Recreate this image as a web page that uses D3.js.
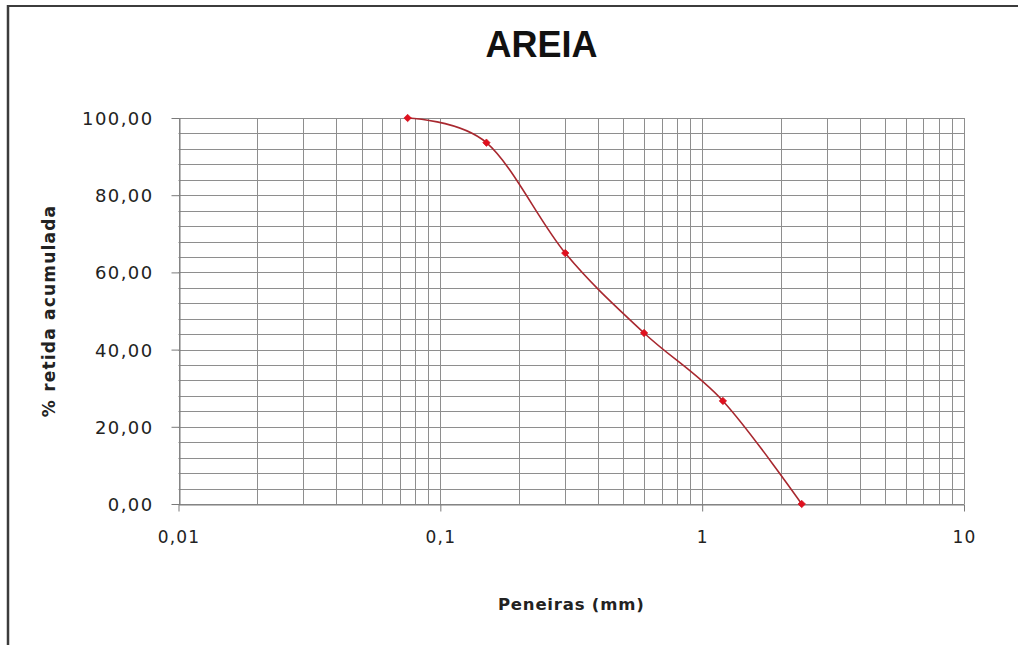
<!DOCTYPE html>
<html>
<head>
<meta charset="utf-8">
<script src="https://cdn.jsdelivr.net/npm/d3@7/dist/d3.min.js"></script>
<style>
  html, body { margin: 0; padding: 0; background: #fff; }
  svg { display: block; }
</style>
</head>
<body>
<svg id="chart" width="1018" height="645"></svg>
<script>
// ---- data ----
const sieves = [0.075, 0.15, 0.3, 0.6, 1.2, 2.4];          // Peneiras (mm)
const retained = [100.0, 93.6, 65.0, 44.3, 26.7, 0.0];     // % retida acumulada
const xTicks = [0.01, 0.1, 1, 10];
const xTickLabels = ["0,01", "0,1", "1", "10"];
const yTicks = [0, 20, 40, 60, 80, 100];
const yTickLabels = ["0,00", "20,00", "40,00", "60,00", "80,00", "100,00"];
const titleText = "AREIA";
const xTitle = "Peneiras (mm)";
const yTitle = "% retida acumulada";

// ---- layout ----
const W = 1018, H = 645;
const plot = { left: 178.5, right: 964, top: 118, bottom: 504 };

const svg = d3.select("#chart");
svg.append("rect").attr("width", W).attr("height", H).attr("fill", "#fff");

// outer frame (top and left visible)
svg.append("line").attr("x1", 7).attr("x2", W).attr("y1", 6).attr("y2", 6)
  .attr("stroke", "#3c3c3c").attr("stroke-width", 2);
svg.append("line").attr("x1", 8).attr("x2", 8).attr("y1", 5).attr("y2", H)
  .attr("stroke", "#3c3c3c").attr("stroke-width", 2.5);

const x = d3.scaleLog().domain([0.01, 10]).range([plot.left, plot.right]);
const y = d3.scaleLinear().domain([0, 100]).range([plot.bottom, plot.top]);

// minor grid values
const xGrid = [];
for (let dec = 0.01; dec < 10; dec *= 10) {
  for (let k = 1; k <= 9; k++) xGrid.push(+(dec * k).toPrecision(3));
}
xGrid.push(10);
const yGrid = d3.range(0, 101, 4);

const grid = svg.append("g");
grid.selectAll("line.h").data(yGrid).join("line")
  .attr("x1", plot.left).attr("x2", plot.right)
  .attr("y1", d => Math.round(y(d)) + 0.5).attr("y2", d => Math.round(y(d)) + 0.5)
  .attr("stroke", "#8e8e8e").attr("stroke-width", 1);
grid.selectAll("line.v").data(xGrid).join("line")
  .attr("x1", d => Math.round(x(d)) + 0.5).attr("x2", d => Math.round(x(d)) + 0.5)
  .attr("y1", plot.top).attr("y2", plot.bottom)
  .attr("stroke", "#8e8e8e").attr("stroke-width", 1);

// axes
const tickFont = "'DejaVu Sans', Verdana, sans-serif";
const xAxis = d3.axisBottom(x).tickValues(xTicks).tickSize(7)
  .tickFormat((d, i) => xTickLabels[i]).tickSizeOuter(0);
const gx = svg.append("g").attr("transform", `translate(0,${Math.round(plot.bottom) + 0.5})`).call(xAxis);
gx.select(".domain").attr("stroke", "#7a7a7a");
gx.selectAll(".tick line").attr("stroke", "#7a7a7a");
gx.selectAll(".tick text").attr("font-family", tickFont).attr("font-size", 17)
  .attr("letter-spacing", 1.2).attr("fill", "#222").attr("y", 38).attr("dy", 0);

const yAxis = d3.axisLeft(y).tickValues(yTicks).tickSize(8)
  .tickFormat((d, i) => yTickLabels[i]).tickSizeOuter(0);
const gy = svg.append("g").attr("transform", `translate(${Math.round(plot.left) + 0.5},0)`).call(yAxis);
gy.select(".domain").attr("stroke", "#7a7a7a");
gy.selectAll(".tick line").attr("stroke", "#7a7a7a");
gy.selectAll(".tick text").attr("font-family", tickFont).attr("font-size", 18)
  .attr("letter-spacing", 1.4).attr("fill", "#222").attr("x", -26).attr("dy", "0.36em");

// curve
const line = d3.line()
  .x(d => x(d[0])).y(d => y(d[1]))
  .curve(d3.curveCardinal.tension(0));
const pts = sieves.map((s, i) => [s, retained[i]]);
svg.append("path").datum(pts).attr("d", line)
  .attr("fill", "none").attr("stroke", "#a8282f").attr("stroke-width", 1.6);

svg.selectAll("path.mk").data(pts).join("path")
  .attr("class", "mk")
  .attr("d", d3.symbol().type(d3.symbolSquare).size(28))
  .attr("transform", d => `translate(${x(d[0])},${y(d[1])}) rotate(45)`)
  .attr("fill", "#e0101e").attr("stroke", "#d0101c").attr("stroke-width", 0.6);

// titles
svg.append("text").attr("x", 541.5).attr("y", 57).attr("text-anchor", "middle")
  .attr("font-family", "'Liberation Sans', Arial, sans-serif").attr("font-weight", "bold")
  .attr("font-size", 36).attr("fill", "#111").text(titleText);

svg.append("text").attr("x", (plot.left + plot.right) / 2).attr("y", 610).attr("text-anchor", "middle")
  .attr("font-family", tickFont).attr("font-weight", "bold").attr("letter-spacing", 0.8)
  .attr("font-size", 16.5).attr("fill", "#222").text(xTitle);

svg.append("text").attr("transform", `translate(55,${(plot.top + plot.bottom) / 2}) rotate(-90)`)
  .attr("text-anchor", "middle")
  .attr("font-family", tickFont).attr("font-weight", "bold").attr("letter-spacing", 1.2)
  .attr("font-size", 17).attr("fill", "#222").text(yTitle);
</script>
</body>
</html>
